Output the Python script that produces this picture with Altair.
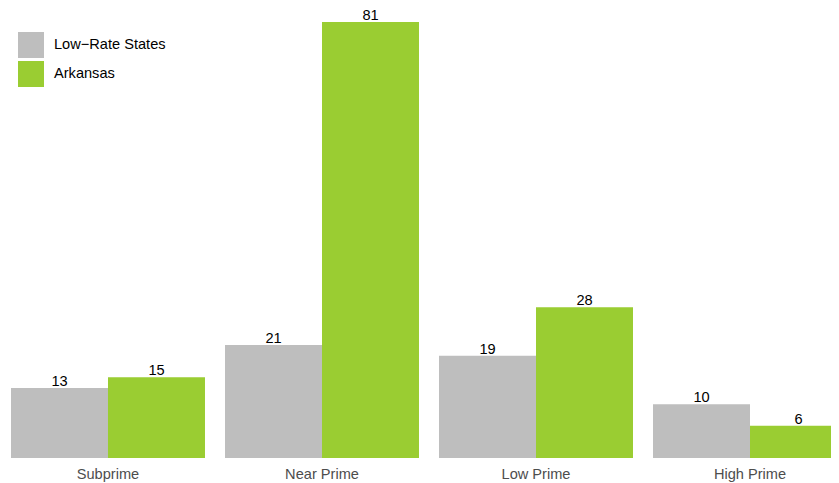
import altair as alt
import pandas as pd

categories = ["Subprime", "Near Prime", "Low Prime", "High Prime"]
series = ["Low\u2212Rate States", "Arkansas"]
low_rate = [13, 21, 19, 10]
arkansas = [15, 81, 28, 6]
colors = ["#BEBEBE", "#9ACD32"]

rows = []
for c, a, b in zip(categories, low_rate, arkansas):
    rows.append({"cat": c, "series": series[0], "value": a})
    rows.append({"cat": c, "series": series[1], "value": b})
df = pd.DataFrame(rows)

font = "Liberation Sans"

x = alt.X("cat:N", sort=categories, title=None,
          scale=alt.Scale(paddingInner=0.0935, paddingOuter=0.014, range=[0, 842]),
          axis=alt.Axis(labelAngle=0, ticks=False, domain=False, labelPadding=8,
                        labelFontSize=14.6, labelColor="#4D4D4D", labelFont=font, grid=False))
xo = alt.XOffset("series:N", sort=series, scale=alt.Scale(paddingInner=0, paddingOuter=0))
y = alt.Y("value:Q", title=None, scale=alt.Scale(domain=[0, 83.6], nice=False, zero=True),
          axis=None)

bars = alt.Chart(df).mark_bar().encode(
    x=x, xOffset=xo, y=y,
    color=alt.Color("series:N", sort=series,
                    scale=alt.Scale(domain=series, range=colors),
                    legend=alt.Legend(title=None, orient="none", legendX=10, legendY=24,
                                      symbolType="square", symbolSize=676,
                                      symbolStrokeWidth=0, labelFontSize=14.6,
                                      labelFont=font, labelColor="#000000",
                                      rowPadding=3, labelOffset=10, padding=0)),
)

labels = alt.Chart(df).mark_text(baseline="alphabetic", dy=-2, fontSize=14.6, font=font,
                                 color="#000000").encode(
    x=x, xOffset=xo, y=y, text="value:Q"
)

chart = alt.layer(bars, labels).properties(
    width=823, height=450,
    padding={"left": 0, "top": 0, "right": 0, "bottom": 24},
    autosize=alt.AutoSizeParams(type="none"),
).configure_view(stroke=None)

chart.save("out.html", embed_options={"renderer": "svg", "actions": False})
